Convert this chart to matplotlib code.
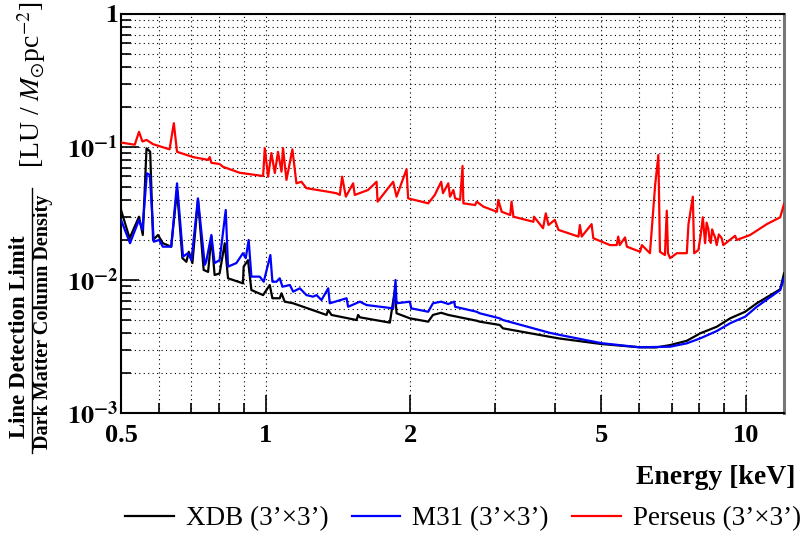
import matplotlib
matplotlib.use('Agg')
from matplotlib import pyplot as plt
from matplotlib.lines import Line2D
from matplotlib.ticker import FixedLocator, FixedFormatter, NullFormatter, LogLocator

# Perseus (3'x3')
perseus_e = [0.500, 0.534, 0.545, 0.554, 0.565, 0.583, 0.631, 0.644, 0.654, 0.706,
             0.759, 0.765, 0.771, 0.802, 0.815, 0.883, 0.988, 0.996, 1.012, 1.028,
             1.045, 1.061, 1.079, 1.087, 1.105, 1.137, 1.159, 1.187, 1.216, 1.255,
             1.339, 1.404, 1.427, 1.443, 1.469, 1.521, 1.533, 1.634, 1.702, 1.710,
             1.843, 1.873, 1.965, 1.980, 2.18, 2.25, 2.32, 2.34, 2.40, 2.42,
             2.46, 2.48, 2.54, 2.57, 2.58, 2.73, 2.75, 2.84, 3.03, 3.05,
             3.10, 3.23, 3.25, 3.28, 3.61, 3.62, 3.78, 3.83, 3.88, 4.00,
             4.07, 4.48, 4.51, 4.55, 4.77, 4.81, 5.21, 5.38, 5.42, 5.46,
             5.60, 5.65, 6.02, 6.07, 6.31, 6.47, 6.57, 6.62, 6.78, 6.84,
             6.88, 6.95, 7.18, 7.53, 7.59, 7.75, 7.80, 7.96, 8.05, 8.13,
             8.22, 8.28, 8.35, 8.40, 8.45, 8.50, 8.55, 8.62, 8.69, 8.78,
             8.90, 8.97, 9.49, 9.57, 10.2, 11.05, 11.78, 12.0]
perseus_v = [0.108, 0.104, 0.130, 0.110, 0.113, 0.105, 0.096, 0.151, 0.092, 0.084,
             0.080, 0.084, 0.076, 0.0745, 0.071, 0.064, 0.0605, 0.098, 0.0598, 0.090,
             0.0637, 0.092, 0.0652, 0.098, 0.0565, 0.096, 0.0533, 0.0548, 0.0490, 0.0481,
             0.0463, 0.0449, 0.0436, 0.0598, 0.0423, 0.0533, 0.0436, 0.0475, 0.0548, 0.0388,
             0.0548, 0.0423, 0.0680, 0.0411, 0.0377, 0.0436, 0.0548, 0.0449, 0.0533, 0.0423,
             0.0475, 0.0411, 0.0400, 0.0720, 0.0377, 0.0366, 0.0388, 0.0356, 0.0326, 0.0400,
             0.0326, 0.0308, 0.0388, 0.0299, 0.0274, 0.0299, 0.0245, 0.0317, 0.0259, 0.0283,
             0.0238, 0.0212, 0.0259, 0.0212, 0.0263, 0.0206, 0.0183, 0.0183, 0.0212, 0.0183,
             0.0209, 0.0178, 0.0163, 0.0183, 0.0159, 0.0518, 0.0871, 0.0163, 0.0154, 0.0332,
             0.0159, 0.0146, 0.0159, 0.0159, 0.0263, 0.0423, 0.0159, 0.0168, 0.0220, 0.0296,
             0.0189, 0.0270, 0.0241, 0.0200, 0.0190, 0.0240, 0.0225, 0.0210, 0.0183, 0.0220,
             0.0206, 0.0183, 0.0215, 0.0200, 0.0218, 0.0263, 0.0296, 0.0373]

# XDB (3'x3')
xdb_e = [0.500, 0.521, 0.545, 0.555, 0.565, 0.575, 0.583, 0.597, 0.611, 0.636,
         0.654, 0.671, 0.684, 0.692, 0.704, 0.723, 0.743, 0.759, 0.771, 0.783,
         0.802, 0.822, 0.835, 0.897, 0.900, 0.919, 0.934, 0.988, 1.020, 1.033,
         1.070, 1.079, 1.096, 1.141, 1.339, 1.350, 1.371, 1.546, 1.558, 1.571,
         1.814, 1.858, 1.873, 1.996, 2.18, 2.23, 2.32, 2.40, 2.75, 2.79,
         3.07, 3.12, 4.07, 5.0, 6.0, 6.5, 6.95, 7.53, 8.03, 8.69,
         9.27, 9.96, 10.53, 11.78, 12.0]
xdb_v = [0.0336, 0.0206, 0.0299, 0.0218, 0.0978, 0.0922, 0.0200, 0.0218, 0.0189, 0.0178,
         0.0475, 0.0146, 0.0137, 0.0163, 0.0134, 0.0400, 0.0119, 0.0115, 0.0212, 0.0109,
         0.0112, 0.0189, 0.0103, 0.00944, 0.0126, 0.0141, 0.0084, 0.0077, 0.00917, 0.00729,
         0.00729, 0.00794, 0.00687, 0.00668, 0.00546, 0.00595, 0.00546, 0.00500, 0.00546, 0.00524,
         0.00478, 0.0084, 0.00562, 0.00515, 0.00486, 0.00546, 0.00567, 0.00546, 0.00494, 0.00486,
         0.00459, 0.00433, 0.00364, 0.00330, 0.00312, 0.00311, 0.00324, 0.00349, 0.00397, 0.00445,
         0.00515, 0.00577, 0.00668, 0.00851, 0.0112]

# M31 (3'x3')
m31_e = [0.500, 0.522, 0.545, 0.554, 0.566, 0.574, 0.585, 0.600, 0.611, 0.636,
         0.654, 0.673, 0.689, 0.701, 0.723, 0.747, 0.752, 0.771, 0.783, 0.802,
         0.826, 0.835, 0.869, 0.897, 0.909, 0.922, 0.934, 0.972, 0.991, 1.023,
         1.033, 1.053, 1.070, 1.084, 1.123, 1.141, 1.178, 1.216, 1.255, 1.276,
         1.307, 1.350, 1.360, 1.474, 1.485, 1.571, 1.622, 1.843, 1.864, 1.873,
         1.996, 2.01, 2.18, 2.23, 2.32, 2.40, 2.47, 2.48, 2.75, 2.79,
         3.07, 3.12, 3.91, 4.07, 5.0, 6.0, 6.95, 7.53, 8.03, 8.69,
         9.27, 9.96, 10.53, 11.78, 12.0]
m31_v = [0.0283, 0.0189, 0.0283, 0.0238, 0.0634, 0.0616, 0.0194, 0.0200, 0.0178, 0.0178,
         0.0533, 0.0150, 0.0159, 0.0141, 0.0411, 0.0130, 0.0137, 0.0218, 0.0134, 0.0141,
         0.0336, 0.0126, 0.0134, 0.0159, 0.0146, 0.0200, 0.0106, 0.0106, 0.0097, 0.0154,
         0.0097, 0.0097, 0.0103, 0.0089, 0.00917, 0.00817, 0.00866, 0.0077, 0.00749, 0.0077,
         0.00707, 0.00866, 0.00668, 0.00729, 0.00629, 0.00687, 0.00648, 0.00612, 0.0100, 0.00668,
         0.00687, 0.00612, 0.00577, 0.00668, 0.00687, 0.00660, 0.00687, 0.00629, 0.00577, 0.00562,
         0.00515, 0.00500, 0.00400, 0.00388, 0.00335, 0.00312, 0.00315, 0.00334, 0.00364, 0.00413,
         0.00473, 0.00530, 0.00629, 0.0084, 0.0103]

x_major = [0.5, 1, 2, 5, 10]
x_labels = ['0.5', '1', '2', '5', '10']
x_minor = [0.6, 0.7, 0.8, 0.9, 3, 4, 6, 7, 8, 9]
y_major = [1e-3, 1e-2, 1e-1, 1]
y_labels = [r'$\mathbf{10^{-3}}$', r'$\mathbf{10^{-2}}$', r'$\mathbf{10^{-1}}$', r'$\mathbf{1}$']

plt.rcParams['mathtext.fontset'] = 'stix'
plt.rcParams['font.family'] = ['Liberation Serif', 'DejaVu Serif']

fig = plt.figure(figsize=(8.02, 5.36), dpi=100)
ax = fig.add_axes([0.1509, 0.2295, 0.8267, 0.7444])

ax.plot(xdb_e, xdb_v, color='black', lw=1.6, label='XDB (3’×3’)', zorder=3)
ax.plot(m31_e, m31_v, color='#0000ff', lw=1.6, label='M31 (3’×3’)', zorder=3)
ax.plot(perseus_e, perseus_v, color='#ff0000', lw=1.6, label='Perseus (3’×3’)', zorder=3)

ax.set_xscale('log')
ax.set_yscale('log')
ax.set_xlim(0.5, 12)
ax.set_ylim(1e-3, 1)

ax.xaxis.set_major_locator(FixedLocator(x_major))
ax.xaxis.set_major_formatter(FixedFormatter(x_labels))
ax.xaxis.set_minor_locator(FixedLocator(x_minor))
ax.xaxis.set_minor_formatter(NullFormatter())
ax.yaxis.set_major_locator(FixedLocator(y_major))
ax.yaxis.set_major_formatter(FixedFormatter(y_labels))
ax.yaxis.set_minor_locator(LogLocator(base=10, subs=range(2, 10), numticks=20))
ax.yaxis.set_minor_formatter(NullFormatter())

ax.tick_params(which='both', direction='in', top=False, right=False, width=1.2)
ax.tick_params(which='major', length=13)
ax.tick_params(which='minor', length=7)
ax.tick_params(axis='x', which='major', pad=8, labelsize=19)
ax.tick_params(axis='y', which='major', pad=2, labelsize=19)
for lab in ax.get_xticklabels():
    lab.set_fontweight('bold')

ax.grid(True, which='both', linestyle=(0, (1, 3)), color='black', lw=0.8, zorder=0)

for s in ['left', 'bottom', 'top']:
    ax.spines[s].set_linewidth(1.5)
ax.spines['right'].set_linewidth(2.2)
ax.spines['right'].set_color('#777777')

fig.text(795 / 802, 1 - 478 / 536, 'Energy [keV]', ha='right', va='center',
         fontsize=20, fontweight='bold')

# y-axis label: fraction + units
fig.text(20 / 802, 1 - 337 / 536, 'Line Detection Limit', rotation=90, ha='center',
         va='center', fontsize=16.5, fontweight='bold')
fig.text(43 / 802, 1 - 322 / 536, 'Dark Matter Column Density', rotation=90, ha='center',
         va='center', fontsize=14.5, fontweight='bold')
fig.add_artist(Line2D([32 / 802, 32 / 802], [1 - 453 / 536, 1 - 188 / 536],
                      transform=fig.transFigure, color='black', lw=1))
fig.text(32 / 802, 1 - 85 / 536, r'[LU / $M_{\odot}$pc$^{-2}$]', rotation=90,
         ha='center', va='center', fontsize=20)

fig.legend(loc='center', bbox_to_anchor=(463 / 802, 1 - 519 / 536), ncol=3,
           frameon=False, fontsize=19.5, handlelength=1.8, handletextpad=0.45,
           columnspacing=0.85)

fig.savefig('out.png', dpi=100)
